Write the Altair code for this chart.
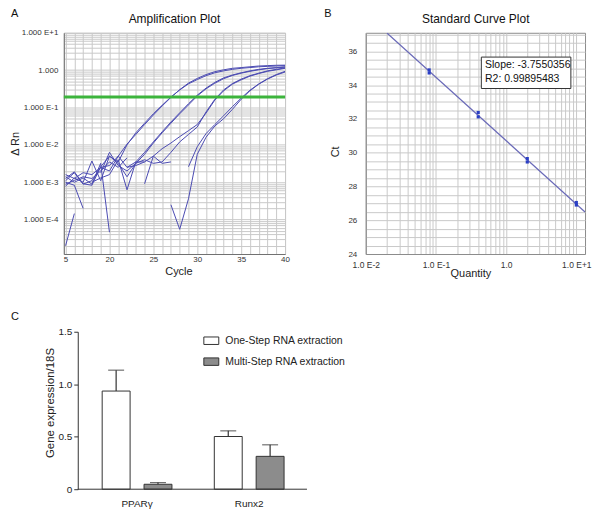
import altair as alt
import pandas as pd

FONT = "Liberation Sans"
GRID = "#c9c9c9"

# ---------------- Panel A: amplification plot ----------------
CYCLES = [15, 16, 17, 18, 19, 20, 21, 22, 23, 24, 25, 26, 27,
          28, 29, 30, 31, 32, 33, 34, 35, 36, 37, 38, 39, 40]
DRN_1 = [1.1e-3, 1.8e-3, 8.9e-4, 1.1e-3, 2.5e-3, 2.0e-3, 5.0e-3, 0.0105, 0.019, 0.035, 0.063, 0.11, 0.186,
         0.30, 0.45, 0.60, 0.76, 0.91, 1.02, 1.12, 1.17, 1.23, 1.29, 1.32, 1.35, 1.36]
DRN_2 = [7.9e-4, 1.3e-3, 1.0e-3, 3.7e-3, 1.1e-3, 5.0e-3, 3.5e-3, 0.010, 0.021, 0.038, 0.068, 0.115, 0.19,
         0.295, 0.43, 0.56, 0.71, 0.85, 0.955, 1.05, 1.12, 1.17, 1.23, 1.26, 1.29, 1.32]
DRN_3 = [1.4e-3, 1.0e-3, 1.3e-3, 8.9e-4, 3.2e-3, 4.6e-5, None, 2.5e-3, 3.5e-3, 6.3e-3, 0.012, 0.0224, 0.041,
         0.072, 0.126, 0.214, 0.33, 0.47, 0.62, 0.74, 0.85, 0.955, 1.05, 1.12, 1.17, 1.23]
DRN_4 = [1.0e-3, 8.3e-4, 2.0e-4, None, 1.8e-3, 6.3e-3, 2.8e-3, 2.0e-3, 3.2e-3, 5.6e-3, 0.0112, 0.021, 0.038,
         0.068, 0.117, 0.204, 0.316, 0.447, 0.59, 0.72, 0.83, 0.93, 1.02, 1.10, 1.15, 1.20]
DRN_5 = [2.0e-5, 1.45e-4, None, 1.0e-3, 1.3e-3, 1.6e-3, 4.0e-3, 6.3e-4, 3.5e-3, 3.5e-3, 5.0e-3, 7.9e-3, 0.0112,
         0.0166, 0.024, 0.035, 0.071, 0.158, 0.28, 0.42, 0.55, 0.69, 0.81, 0.93, 1.02, 1.12]
DRN_6 = [1.26e-3, 1.9e-3, 9.1e-4, 8.3e-4, 2.6e-3, 5.0e-3, 3.2e-3, 1.4e-3, 3.2e-3, 4.0e-3, 3.2e-3, 3.5e-3, 6.3e-3,
         0.012, 0.019, 0.030, 0.076, 0.166, 0.295, 0.437, 0.575, 0.71, 0.83, 0.955, 1.05, 1.15]
DRN_7 = [1.6e-3, 1.26e-3, 1.8e-3, 1.6e-3, 2.5e-3, 2.8e-3, 5.0e-3, 2.5e-3, 2.8e-3, 3.5e-3, None, None, 2.5e-4,
         5.5e-5, 3.6e-4, 5.6e-3, 0.016, 0.032, 0.050, 0.089, 0.166, 0.28, 0.42, 0.575, 0.74, 0.89]
DRN_8 = [8.9e-4, 1.12e-3, 1.4e-3, 1.26e-3, 2.0e-3, 3.5e-3, 2.5e-3, 4.5e-3, None, 9.1e-4, 5.0e-3, 3.2e-3, 3.5e-3,
         None, 2.6e-3, 8.9e-3, 0.020, 0.035, 0.060, 0.105, 0.178, 0.29, 0.427, 0.59, 0.76, 0.93]
THRESHOLD = [0.19]

# ---------------- Panel B: standard curve ----------------
STD_QTY = [0.08, 0.08, 0.4, 0.4, 2.0, 2.0, 10.0, 10.0]
STD_CT = [34.72, 34.90, 32.12, 32.38, 29.45, 29.65, 26.90, 27.05]
FIT_QTY = [0.02, 13.3]
FIT_CT = [37.09, 26.49]
BOX_QTY = [0.443, 8.36]
BOX_CT = [33.80, 35.66]
NOTE_QTY = [0.50, 0.50]
NOTE_CT = [35.0, 34.21]
NOTE_TEXT = ["Slope: -3.7550356", "R2: 0.99895483"]

# ---------------- Panel C: gene expression ----------------
GENES = ["PPARγ", "Runx2"]
METHODS = ["One-Step RNA extraction", "Multi-Step RNA extraction"]
MEAN_ONE = [0.935, 0.502]
UPPER_ONE = [1.134, 0.556]
MEAN_MULTI = [0.047, 0.313]
UPPER_MULTI = [0.063, 0.423]

ONE = pd.DataFrame({"k": [0]})


def note(s, x, y, size, align="left", color="#111111"):
    return alt.Chart(ONE).mark_text(
        text=s, fontSize=size, align=align, baseline="alphabetic", font=FONT, color=color
    ).encode(x=alt.value(x), y=alt.value(y))


# ----- A -----
rows = []
for name, vals in [("c1", DRN_1), ("c2", DRN_2), ("c3", DRN_3), ("c4", DRN_4),
                   ("c5", DRN_5), ("c6", DRN_6), ("c7", DRN_7), ("c8", DRN_8)]:
    seg = 0
    for c, v in zip(CYCLES, vals):
        if v is None:
            seg += 1
            continue
        rows.append({"cycle": c, "drn": v, "seg": f"{name}-{seg}"})
df_curves = pd.DataFrame(rows)

A_Y_GRID = [k * 10.0 ** e for e in range(-5, 1) for k in range(1, 10)] + [10.0]
A_Y_GRID = [v for v in A_Y_GRID if v >= 1.2e-5]
dec = "log(datum.value)/LN10"
A_Y_LABEL = (f"abs({dec} - round({dec})) > 0.01 ? '' : round({dec}) == 1 ? '1.000 E+1' : "
             f"round({dec}) == 0 ? '1.000' : round({dec}) >= -4 ? '1.000 E' + round({dec}) : ''")

XA = alt.Scale(domain=[14.8, 40], nice=False, zero=False)
YA = alt.Scale(type="log", domain=[1.2e-5, 10], nice=False)
AXA_X = alt.Axis(values=CYCLES, grid=True, gridColor=GRID, ticks=False, tickSize=0,
                 domainColor="#707070",
                 labelExpr="datum.value == 15 ? '5' : datum.value % 5 == 0 ? datum.label : ''",
                 labelFlush=False, labelOverlap=False, labelFontSize=8, labelPadding=2,
                 title="Cycle", titleFontSize=11, titleX=115, titleY=21, titleBaseline="alphabetic")
AXA_Y = alt.Axis(values=A_Y_GRID, grid=True, gridColor=GRID, ticks=False, tickSize=0,
                 domainColor="#707070", labelExpr=A_Y_LABEL, labelOverlap=False,
                 labelFontSize=8, labelPadding=6,
                 title="Δ Rn", titleFontSize=11, titleX=-45, titleY=111,
                 titleBaseline="alphabetic", titleAngle=270)

curves = alt.Chart(df_curves).mark_line(color="#4b4bb2", strokeWidth=1, clip=True).encode(
    x=alt.X("cycle:Q", scale=XA, axis=AXA_X),
    y=alt.Y("drn:Q", scale=YA, axis=AXA_Y),
    detail="seg:N",
)
thr = alt.Chart(pd.DataFrame({"thr": THRESHOLD})).mark_rule(color="#3cb43c", strokeWidth=3).encode(
    y=alt.Y("thr:Q", scale=YA, axis=AXA_Y)
)
panelA = alt.layer(
    curves, thr,
    note("Amplification Plot", 111, -9.7, 12, "center"),
    note("A", -53, -15.8, 11),
).properties(width=222, height=222, view=alt.ViewBackground(stroke="#bdbdbd"))

# ----- B -----
B_X_GRID = [k * 10.0 ** e for e in range(-2, 1) for k in range(1, 10)] + [10.0]
B_Y_GRID = [24 + 0.5 * i for i in range(27)]
B_X_LABEL = (f"abs({dec} - round({dec})) > 0.01 ? '' : round({dec}) == 0 ? '1.0' : "
             f"round({dec}) == 1 ? '1.0 E+1' : '1.0 E' + round({dec})")
XB = alt.Scale(type="log", domain=[0.01, 13.3], nice=False)
YB = alt.Scale(domain=[24, 37.1], nice=False, zero=False)
AXB_X = alt.Axis(values=B_X_GRID, grid=True, gridColor=GRID, ticks=False, tickSize=0,
                 domainColor="#8c8c8c", labelExpr=B_X_LABEL, labelFlush=False, labelOverlap=False,
                 labelFontSize=8.5, labelPadding=7,
                 title="Quantity", titleFontSize=11, titleX=105, titleY=23, titleBaseline="alphabetic")
AXB_Y = alt.Axis(values=B_Y_GRID, grid=True, gridColor=GRID, ticks=False, tickSize=0,
                 domainColor="#8c8c8c",
                 labelExpr="datum.value % 2 == 0 ? format(datum.value, 'd') : ''",
                 labelOverlap=False, labelFontSize=8, labelPadding=9,
                 title="Ct", titleFontSize=11, titleX=-27, titleY=119,
                 titleBaseline="alphabetic", titleAngle=270)

fit = alt.Chart(pd.DataFrame({"q": FIT_QTY, "ct": FIT_CT})).mark_line(
    color="#6a6ab8", strokeWidth=1.2, clip=True).encode(
    x=alt.X("q:Q", scale=XB, axis=AXB_X), y=alt.Y("ct:Q", scale=YB, axis=AXB_Y))
pts = alt.Chart(pd.DataFrame({"q": STD_QTY, "ct": STD_CT})).mark_square(
    size=10, color="#2b3fc4", opacity=1).encode(
    x=alt.X("q:Q", scale=XB, axis=AXB_X), y=alt.Y("ct:Q", scale=YB, axis=AXB_Y))
box = alt.Chart(pd.DataFrame({"q1": [BOX_QTY[0]], "q2": [BOX_QTY[1]],
                              "c1": [BOX_CT[0]], "c2": [BOX_CT[1]]})).mark_rect(
    fill="white", stroke="#333333", strokeWidth=1).encode(
    x=alt.X("q1:Q", scale=XB, axis=AXB_X), x2="q2:Q",
    y=alt.Y("c1:Q", scale=YB, axis=AXB_Y), y2="c2:Q")
notes = alt.Chart(pd.DataFrame({"q": NOTE_QTY, "ct": NOTE_CT, "t": NOTE_TEXT})).mark_text(
    align="left", baseline="alphabetic", fontSize=10.5, font=FONT, color="#111111").encode(
    x=alt.X("q:Q", scale=XB, axis=AXB_X), y=alt.Y("ct:Q", scale=YB, axis=AXB_Y), text="t:N")
panelB = alt.layer(
    fit, pts, box, notes,
    note("Standard Curve Plot", 110.3, -9.6, 12, "center"),
    note("B", -41.7, -15.8, 11),
).properties(width=220, height=222, view=alt.ViewBackground(stroke="#8c8c8c"))

# ----- C -----
# Panel C shares the left origin of panel A; its y axis sits 14 px inside that origin.
C_INSET = 14
C_W = 244
C_H = 158
df_c = pd.DataFrame({
    "gene": GENES + GENES,
    "method": [METHODS[0]] * 2 + [METHODS[1]] * 2,
    "mean": MEAN_ONE + MEAN_MULTI,
    "upper": UPPER_ONE + UPPER_MULTI,
})
XC = alt.X("gene:N", sort=GENES,
           scale=alt.Scale(paddingInner=0.2, paddingOuter=0.1844, align=0.687),
           axis=alt.Axis(title=None, labelAngle=0, ticks=False, domain=False, labelPadding=9,
                         labelFontSize=10, labelColor="#222222"))
XOC = alt.XOffset("method:N", sort=METHODS, scale=alt.Scale(paddingInner=0.333, paddingOuter=0.238))
YCS = alt.Scale(domain=[0, 1.5], nice=False)
AXC_Y = alt.Axis(values=[0, 0.5, 1.0, 1.5], offset=-C_INSET,
                 labelExpr="datum.value == 0 ? '0' : format(datum.value, '.1f')",
                 tickSize=4, tickColor="#333333", domainColor="#333333", labelPadding=2,
                 labelFontSize=10, labelColor="#222222", grid=False,
                 title="Gene expression/18S", titleFontSize=11.5, titleX=-24, titleY=71,
                 titleBaseline="alphabetic", titleAngle=270)

bars = alt.Chart(df_c).mark_bar(stroke="#333333", strokeWidth=1).encode(
    x=XC, xOffset=XOC,
    y=alt.Y("mean:Q", scale=YCS, axis=AXC_Y),
    fill=alt.Fill("method:N", sort=METHODS,
                  scale=alt.Scale(domain=METHODS, range=["#ffffff", "#8c8c8c"]),
                  legend=alt.Legend(orient="none", legendX=140, legendY=1, title=None,
                                    symbolType="M-1,-0.5H1V0.5H-1Z", symbolSize=225,
                                    symbolStrokeColor="#333333", symbolStrokeWidth=1,
                                    labelFontSize=10.5, labelFont=FONT, labelColor="#222222",
                                    labelOffset=6, rowPadding=7, padding=0)),
)
err = alt.Chart(df_c).mark_rule(color="#333333", strokeWidth=1.2).encode(
    x=XC, xOffset=XOC, y=alt.Y("mean:Q", scale=YCS, axis=AXC_Y), y2="upper:Q")
caps = alt.Chart(df_c).mark_tick(color="#333333", thickness=1.2, size=16).encode(
    x=XC, xOffset=XOC, y=alt.Y("upper:Q", scale=YCS, axis=AXC_Y))
x_axis_line = alt.Chart(ONE).mark_rule(color="#333333", strokeWidth=1).encode(
    x=alt.value(C_INSET), x2=alt.value(C_W), y=alt.value(C_H))
panelC = alt.layer(bars, err, caps, x_axis_line, note("C", -53, -11.7, 11)).properties(
    width=C_W, height=C_H)

row1 = alt.hconcat(panelA, panelB, spacing=33)

chart = alt.vconcat(row1, panelC, spacing=31).resolve_legend(fill="independent").properties(
    padding={"left": 1, "top": -2, "right": 0, "bottom": 0}
).configure(font=FONT).configure_view(stroke=None).configure_axis(
    labelFont=FONT, titleFont=FONT, titleFontWeight="normal", labelColor="#333333", titleColor="#222222"
)

chart.save("out.html", embed_options={"renderer": "svg", "actions": False})
